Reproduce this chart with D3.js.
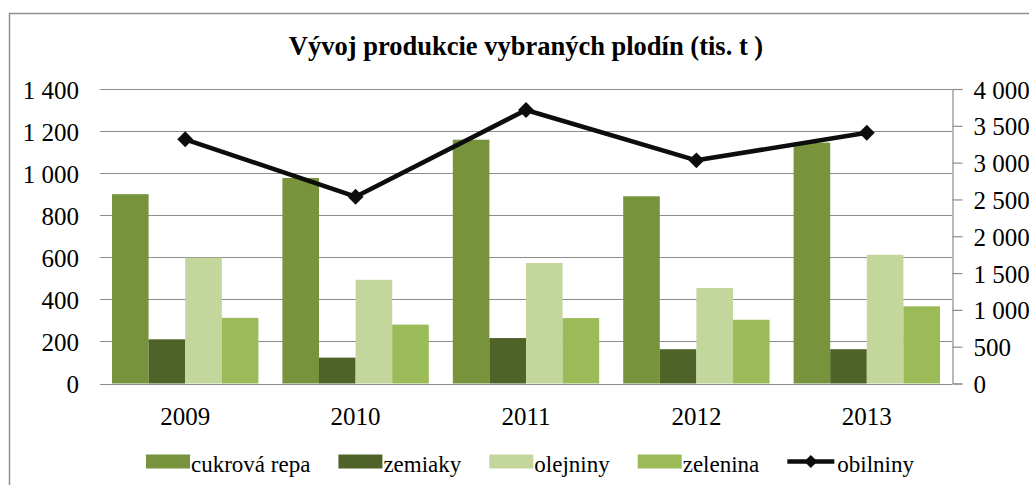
<!DOCTYPE html>
<html>
<head>
<meta charset="utf-8">
<script src="https://cdn.jsdelivr.net/npm/d3@7"></script>
<style>
  body { margin: 0; background: #fff; }
  svg text { font-family: "Liberation Serif", "DejaVu Serif", "Times New Roman", serif !important; fill: #000; }
</style>
</head>
<body>
<div id="chart"></div>
<script>
// Data
const years = ["2009", "2010", "2011", "2012", "2013"]
const barSeries = ["cukrová repa", "zemiaky", "olejniny", "zelenina"]
const cukrovaRepa = [900, 977, 1159, 890, 1145]
const zemiaky = [210, 123, 216, 163, 163]
const olejniny = [598, 493, 573, 454, 612]
const zelenina = [312, 280, 311, 303, 367]
const obilniny = [3317, 2537, 3715, 3031, 3406]
const leftTicks = [0, 200, 400, 600, 800, 1000, 1200, 1400]
const rightTicks = [0, 500, 1000, 1500, 2000, 2500, 3000, 3500, 4000]

const barValues = [cukrovaRepa, zemiaky, olejniny, zelenina]
const colors = ["#77933c", "#4f6228", "#c3d69b", "#9bbb59"]

const svgWidth = 1029
const svgHeight = 485

let margin = { top: 89, right: 77, bottom: 101.5, left: 100 }
let width = svgWidth - margin.left - margin.right
let height = svgHeight - margin.top - margin.bottom

let svg = d3.select("#chart")
  .append("svg")
  .attr("width", svgWidth)
  .attr("height", svgHeight)

// chart border (runs off the right and bottom edge)
svg.append("rect")
  .attr("x", 9.5)
  .attr("y", 13.5)
  .attr("width", 1040)
  .attr("height", 490)
  .attr("fill", "none")
  .attr("stroke", "#8e8e8e")
  .attr("stroke-width", 1.5)

svg.append("text")
  .attr("x", margin.left + width / 2)
  .attr("y", 55)
  .attr("text-anchor", "middle")
  .style("font-size", "26.5px")
  .style("font-weight", "bold")
  .text("Vývoj produkcie vybraných plodín (tis. t )")

let chartGroup = svg.append("g")
  .attr("transform", `translate(${margin.left}, ${margin.top})`)

let xBand = d3.scaleBand().domain(years).range([0, width])
let xInner = d3.scaleBand().domain(barSeries).range([0, xBand.bandwidth()]).paddingOuter(0.328)
let yLeft = d3.scaleLinear().domain([0, 1400]).range([height, 0])
let yRight = d3.scaleLinear().domain([0, 4000]).range([height, 0])

const fmt = v => d3.format(",")(v).replace(/,/g, " ")

// gridlines
chartGroup.append("g")
  .selectAll("line")
  .data(leftTicks)
  .enter()
  .append("line")
  .attr("x1", 0)
  .attr("x2", width)
  .attr("y1", d => Math.round(yLeft(d)) + 0.5)
  .attr("y2", d => Math.round(yLeft(d)) + 0.5)
  .attr("stroke", "#8c8c8c")
  .attr("stroke-width", 1.2)

// left axis labels
let leftAxis = d3.axisLeft(yLeft).tickValues(leftTicks).tickFormat(fmt).tickSize(0).tickPadding(21)
let yAxisL = chartGroup.append("g").call(leftAxis)
yAxisL.select(".domain").remove()
yAxisL.selectAll("text")
  .style("font-size", "25px")
  .attr("dy", "0.36em")

// right axis
let rightAxis = d3.axisRight(yRight).tickValues(rightTicks).tickFormat(fmt).tickSize(10).tickPadding(11)
let yAxisR = chartGroup.append("g")
  .attr("transform", `translate(${width + 0.5}, 0)`)
  .call(rightAxis)
yAxisR.select(".domain").attr("stroke", "#8c8c8c").attr("stroke-width", 1.2)
yAxisR.selectAll(".tick line").attr("stroke", "#8c8c8c").attr("stroke-width", 1.2)
yAxisR.selectAll("text")
  .style("font-size", "25px")
  .attr("dy", "0.36em")

// bars
barSeries.forEach((s, i) => {
  chartGroup.append("g")
    .selectAll("rect")
    .data(barValues[i])
    .enter()
    .append("rect")
    .attr("x", (d, j) => xBand(years[j]) + xInner(s))
    .attr("y", d => yLeft(d))
    .attr("width", xInner.bandwidth())
    .attr("height", d => height - yLeft(d))
    .attr("fill", colors[i])
})

// x axis labels
let bottomAxis = d3.axisBottom(xBand).tickSize(0).tickPadding(24)
let xAxis = chartGroup.append("g")
  .attr("transform", `translate(0, ${height})`)
  .call(bottomAxis)
xAxis.select(".domain").remove()
xAxis.selectAll("text")
  .style("font-size", "25px")

// obilniny line on the right axis
let line = d3.line()
  .x((d, j) => xBand(years[j]) + xBand.bandwidth() / 2)
  .y(d => yRight(d))

chartGroup.append("path")
  .datum(obilniny)
  .attr("d", line)
  .attr("fill", "none")
  .attr("stroke", "#0d0d0d")
  .attr("stroke-width", 4.5)
  .attr("stroke-linejoin", "round")

chartGroup.append("g")
  .selectAll("path")
  .data(obilniny)
  .enter()
  .append("path")
  .attr("d", d3.symbol(d3.symbolDiamond2, 160))
  .attr("transform", (d, j) => `translate(${xBand(years[j]) + xBand.bandwidth() / 2}, ${yRight(d)})`)
  .attr("fill", "#0d0d0d")

// legend
let legend = svg.append("g")
let lx = 146
const legendNames = barSeries.concat(["obilniny"])
legendNames.forEach((name, i) => {
  let item = legend.append("g").attr("transform", `translate(${lx}, 0)`)
  if (i < barSeries.length) {
    item.append("rect")
      .attr("x", 0).attr("y", 454.5)
      .attr("width", 44).attr("height", 14)
      .attr("fill", colors[i])
  } else {
    item.append("line")
      .attr("x1", 0).attr("x2", 47)
      .attr("y1", 461.5).attr("y2", 461.5)
      .attr("stroke", "#0d0d0d")
      .attr("stroke-width", 4.5)
    item.append("path")
      .attr("d", d3.symbol(d3.symbolDiamond2, 110))
      .attr("transform", "translate(23.5, 461.5)")
      .attr("fill", "#0d0d0d")
  }
  let t = item.append("text")
    .attr("x", i < barSeries.length ? 45 : 50)
    .attr("y", 472)
    .style("font-size", "23px")
    .text(name)
  lx += (i < barSeries.length ? 45 : 50) + t.node().getComputedTextLength() + 28
})
</script>
</body>
</html>
